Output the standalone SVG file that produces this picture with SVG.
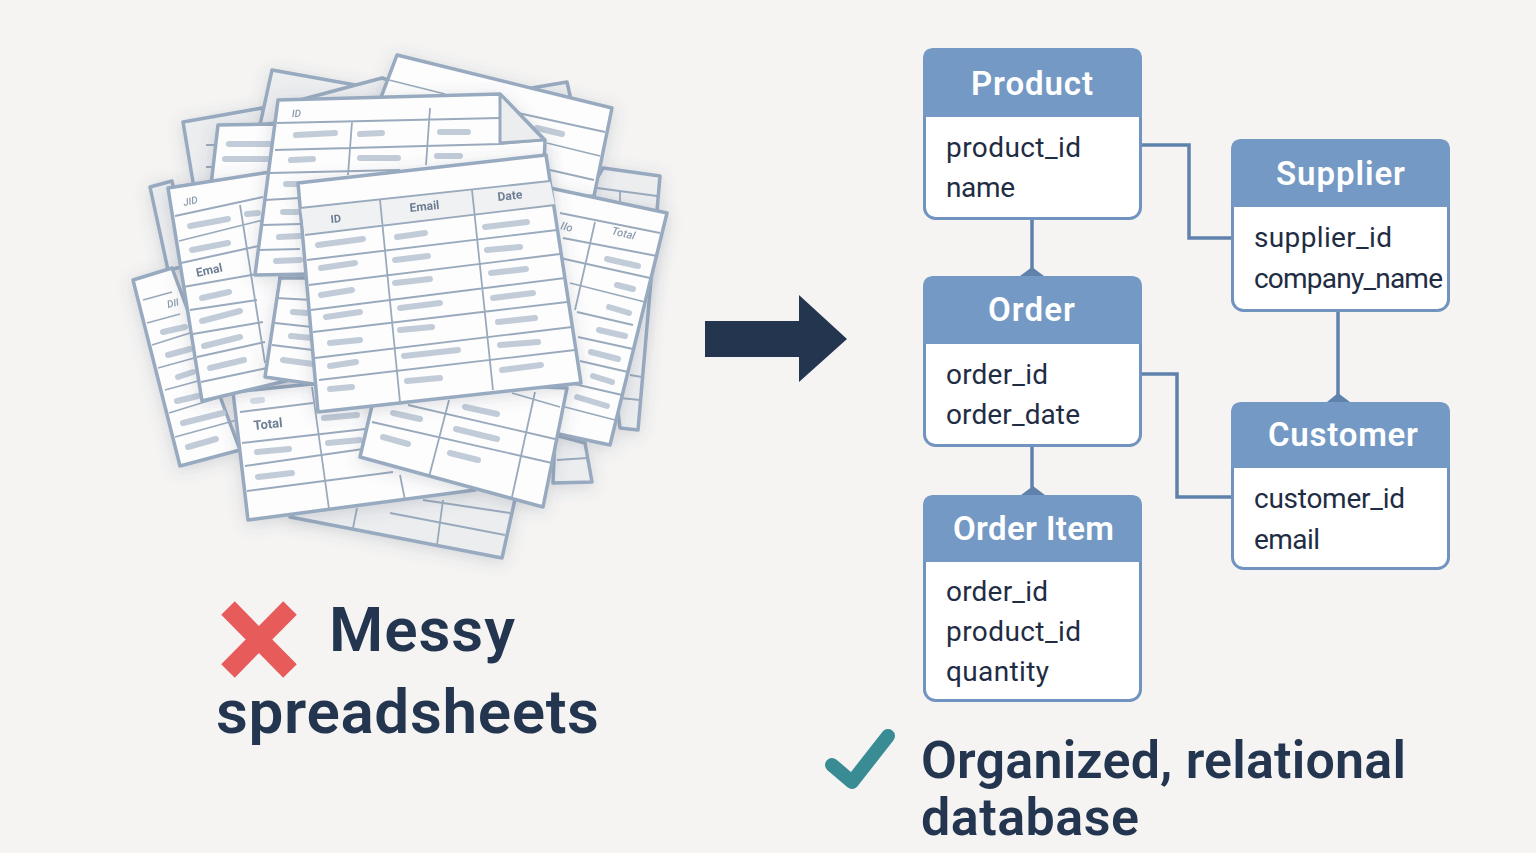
<svg xmlns="http://www.w3.org/2000/svg" width="1536" height="853" viewBox="0 0 1536 853">
<style>
.s{fill:#fdfdfd;stroke:#98aabf;stroke-width:3.5;stroke-linejoin:round}
.g{fill:#ecedef;stroke:#98aabf;stroke-width:3.5;stroke-linejoin:round}
.sh{filter:url(#shadow)}
.l{fill:none;stroke:#9aaabd;stroke-width:1.8}
.b{fill:none;stroke:#c2ccd8;stroke-width:6;stroke-linecap:round}
.hd{fill:#f0f1f3}
.t{font-family:"Roboto","Liberation Sans",sans-serif;font-weight:700;fill:#6d7e94;font-size:12px}
.i{font-style:italic;font-weight:500;fill:#8d9bad;font-size:10px}
.box{fill:#fff;stroke:#7094bf;stroke-width:3}
.head{fill:#7499c4}
.ht{font-family:"Roboto","Liberation Sans",sans-serif;font-weight:600;font-size:33px;fill:#fff}
.at{font-family:"Roboto","Liberation Sans",sans-serif;font-size:28px;fill:#1f2d44}
.big{font-family:"Roboto","Liberation Sans",sans-serif;font-weight:600;fill:#243550}
.c{fill:none;stroke:#5f82ad;stroke-width:3.5}
.d{fill:#5f82ad}
</style>
<defs>
<filter id="shadow" filterUnits="userSpaceOnUse" x="0" y="0" width="1536" height="853"><feDropShadow dx="0" dy="3" stdDeviation="8" flood-color="#4c5a6c" flood-opacity=".2"/></filter>
</defs>
<rect width="1536" height="853" fill="#f5f4f3"/>
<g id="sheets">
<g id="sheet-a" class="sh"><polygon class="g" points="290,517 502,558 517,490 300,470"/><path class="l" d="M423,500L510,513M390,513L505,535M443,500L437,545M357,508L353,528"/></g>
<g id="sheet-b" class="sh"><polygon class="g" points="553,483 592,482 585,443 555,435"/><path class="l" d="M557,460L587,458"/></g>
<g id="sheet-c" class="sh"><polygon class="g" points="603,168 660,176 638,430 620,428 590,190"/><path class="l" d="M597,188L657,196M620,192L620,205M630,375L642,377M620,398L640,400"/></g>
<g id="sheet-d-small"><polygon class="g" points="520,90 567,82 571,100 545,110"/></g>
<g id="sheet-e1" class="sh"><polygon class="g" points="183,122 262,108 290,190 196,200"/><path class="l" d="M206,145L218,145M206,167L218,167"/></g>
<g id="sheet-e3" class="sh"><polygon class="g" points="272,70 372,88 380,110 260,125"/></g>
<g id="sheet-d0"><polygon class="g" points="300,100 382,78 450,100 350,110"/></g>
<g id="sheet-d" class="sh"><polygon class="s" points="397,55 612,108 594,196 520,200 380,100"/><path class="l" d="M385,79L445,94M518,113L605,132M547,143L600,156M550,170L594,180"/><path class="b" d="M537,128L562,134"/></g>
<g id="sheet-e2" class="sh"><polygon class="s" points="218,125 278,124 270,190 211,185"/><path class="b" d="M229,144L272,144M225,159L270,159"/></g>
<g id="sheet-f" class="sh"><polygon class="g" points="150,187 172,181 190,265 168,270"/></g>
<g id="sheet-h" class="sh"><polygon class="s" points="133,280 172,268 240,450 180,466"/><path class="l" d="M143,300L172,292M147,323L180,314M152,345L190,333M158,368L205,355M165,390L220,375M169,413L237,392M175,437L237,420"/><path class="b" d="M163,332L185,327M168,355L190,349M178,377L193,372M177,401L198,396M183,423L223,413M188,447L216,439"/><text class="t i" transform="translate(168,308) rotate(-14)">DII</text></g>
<g id="sheet-i" class="sh"><polygon class="s" points="233,392 400,375 475,490 248,520"/><path class="l" d="M240,412L313,403M242,443L383,427M245,466L377,447M247,491L393,472M312,387L329,509M400,475L405,500"/><path class="b" d="M257,452L289,449M258,477L292,473M324,418L357,415M328,443L360,440"/><path class="b" d="M253,401L262,400" opacity=".7"/><text class="t" transform="translate(254,430) rotate(-6)" style="font-size:13px">Total</text></g>
<g id="sheet-k" class="sh"><polygon class="s" points="550,188 667,213 610,445 540,430"/><path class="l" d="M560,213L660,233M563,238L657,256M560,258L650,278M570,283L645,302M577,312L633,325M578,337L633,349M580,361L628,372M570,383L622,395M565,407L615,420M595,222L575,310"/><path class="b" d="M607,259L638,266M617,285L633,289M609,307L629,313M599,330L625,336M591,352L618,359M593,376L612,382M577,397L607,406"/><text class="t i" transform="translate(611,234) rotate(14)" style="font-size:11px">Total</text><text class="t i" transform="translate(560,229) rotate(14)" style="font-size:11px">IIo</text></g>
<g id="sheet-j" class="sh"><polygon class="s" points="360,457 543,507 567,388 378,380"/><path class="l" d="M512,393L560,407M408,405L555,439M372,422L552,463M449,400L429,477M535,392L512,497"/><path class="b" d="M393,413L420,419M465,407L497,414M456,429L497,439M450,453L478,460M383,437L408,444"/></g>
<g id="sheet-g" class="sh"><polygon class="s" points="168,188 270,172 290,380 202,401"/><path class="l" d="M175,216L263,197M179,241L263,220M181,263L263,245M183,287L257,274M190,310L257,300M193,334L263,322M197,357L265,342M201,382L267,368M240,205L265,363"/><path class="b" d="M190,226L228,219M192,250L228,243M202,298L229,292M202,321L240,311M204,346L240,337M210,368L244,360M247,214L258,213"/><text class="t i" transform="translate(184,206) rotate(-12)">JID</text><text class="t" transform="translate(197,277) rotate(-12)">Emal</text></g>
<g id="sheet-n" class="sh"><polygon class="s" points="280,278 320,278 320,385 265,377"/><path class="l" d="M276,298L312,300M275,323L312,327M272,345L313,350"/><path class="b" d="M293,312L307,313M291,336L312,338M283,360L313,364"/></g>
<g id="sheet-l" class="sh"><polygon class="s" points="278,100 500,94 545,140 540,270 255,275"/><polygon class="g" points="500,94 544,140 500,143" style="stroke-width:3"/><path class="l" d="M277,123L500,118M275,150L500,144M270,173L400,170M265,200L300,198M263,225L300,224M258,250L300,249M352,122L348,175M430,108L426,165M500,144L545,140"/><path class="b" d="M296,135L335,133M360,134L382,133M440,132L468,132M291,160L313,159M360,158L398,158M437,156L460,156M286,184L300,184M283,212L298,212M279,237L300,236M276,261L300,260"/><text class="t i" transform="translate(292,117) rotate(-2)">ID</text></g>
<g id="sheet-m" class="sh"><polygon class="s" points="298,183 546,155 581,383 318,412"/><polygon class="hd" points="301,208 550,181 555,205 305,235"/><path class="l" d="M300,208L550,181M305,235L555,205M307,260L557,230M309,285L560,254M311,310L565,278M313,332L567,302M315,358L572,327M319,380L575,350M380,200L400,402M472,190L493,390"/><path class="b" d="M318,245L363,239M321,268L355,263M321,295L352,290M326,317L360,312M330,343L360,340M330,366L356,362M330,389L352,387M397,237L425,233M395,260L428,256M395,283L430,279M400,308L440,303M400,330L432,327M404,356L458,350M407,381L440,378M485,227L527,222M487,250L520,247M491,273L526,269M493,298L533,293M498,322L535,318M500,345L538,342M502,370L541,365"/><text class="t" transform="translate(331,223) rotate(-6)" style="font-size:11px">ID</text><text class="t" transform="translate(410,212) rotate(-6)" style="font-size:12px">Email</text><text class="t" transform="translate(498,201) rotate(-6)" style="font-size:12px">Date</text></g>
</g>
<g id="messy-label">
<path d="M228,608L290,671M290,608L228,671" fill="none" stroke="#e85b5b" stroke-width="19"/>
<text class="big" x="329" y="651" font-size="62" textLength="186">Messy</text>
<text class="big" x="216" y="733" font-size="62" textLength="383">spreadsheets</text>
</g>
<polygon id="transform-arrow" points="705,321 799,321 799,295 847,339 799,382 799,357 705,357" fill="#243550"/>
<g id="connectors">
<path class="c" d="M1141,145H1189V238H1232M1032,219V272M1141,374H1177V497H1232M1032,446V492M1338,311V398"/>
<path class="d" d="M1020,276L1032,267L1044,276ZM1021,495L1033,486L1045,495ZM1327,402L1338,393L1350,402Z"/>
</g>
<g id="product"><rect class="box" x="924.500" y="49.500" width="216" height="169" rx="11"/><path class="head" d="M923,117V59Q923,48 934,48H1131Q1142,48 1142,59V117Z"/><text class="ht" x="971" y="95" textLength="122">Product</text><text class="at" x="946" y="157" textLength="135">product_id</text><text class="at" x="946" y="197" textLength="69">name</text></g>
<g id="supplier"><rect class="box" x="1232.500" y="140.500" width="216" height="170" rx="11"/><path class="head" d="M1231,207V150Q1231,139 1242,139H1439Q1450,139 1450,150V207Z"/><text class="ht" x="1276" y="185" textLength="129">Supplier</text><text class="at" x="1254" y="247" textLength="138">supplier_id</text><text class="at" x="1254" y="288" textLength="189">company_name</text></g>
<g id="order"><rect class="box" x="924.500" y="277.500" width="216" height="168" rx="11"/><path class="head" d="M923,344V287Q923,276 934,276H1131Q1142,276 1142,287V344Z"/><text class="ht" x="988" y="321" textLength="87">Order</text><text class="at" x="946" y="384" textLength="102">order_id</text><text class="at" x="946" y="424" textLength="134">order_date</text></g>
<g id="customer"><rect class="box" x="1232.500" y="403.500" width="216" height="165" rx="11"/><path class="head" d="M1231,468V413Q1231,402 1242,402H1439Q1450,402 1450,413V468Z"/><text class="ht" x="1268" y="446" textLength="150">Customer</text><text class="at" x="1254" y="508" textLength="151">customer_id</text><text class="at" x="1254" y="549" textLength="66">email</text></g>
<g id="order-item"><rect class="box" x="924.500" y="496.500" width="216" height="204" rx="11"/><path class="head" d="M923,562V506Q923,495 934,495H1131Q1142,495 1142,506V562Z"/><text class="ht" x="953" y="540" textLength="161">Order Item</text><text class="at" x="946" y="601" textLength="102">order_id</text><text class="at" x="946" y="641" textLength="135">product_id</text><text class="at" x="946" y="681" textLength="103">quantity</text></g>
<g id="organized-label">
<polyline points="832,765 852,782 888,736" fill="none" stroke="#3a8c94" stroke-width="14" stroke-linecap="round" stroke-linejoin="round"/>
<text class="big" x="921" y="778" font-size="52" textLength="485">Organized, relational</text>
<text class="big" x="921" y="835" font-size="52" textLength="218">database</text>
</g>
</svg>
